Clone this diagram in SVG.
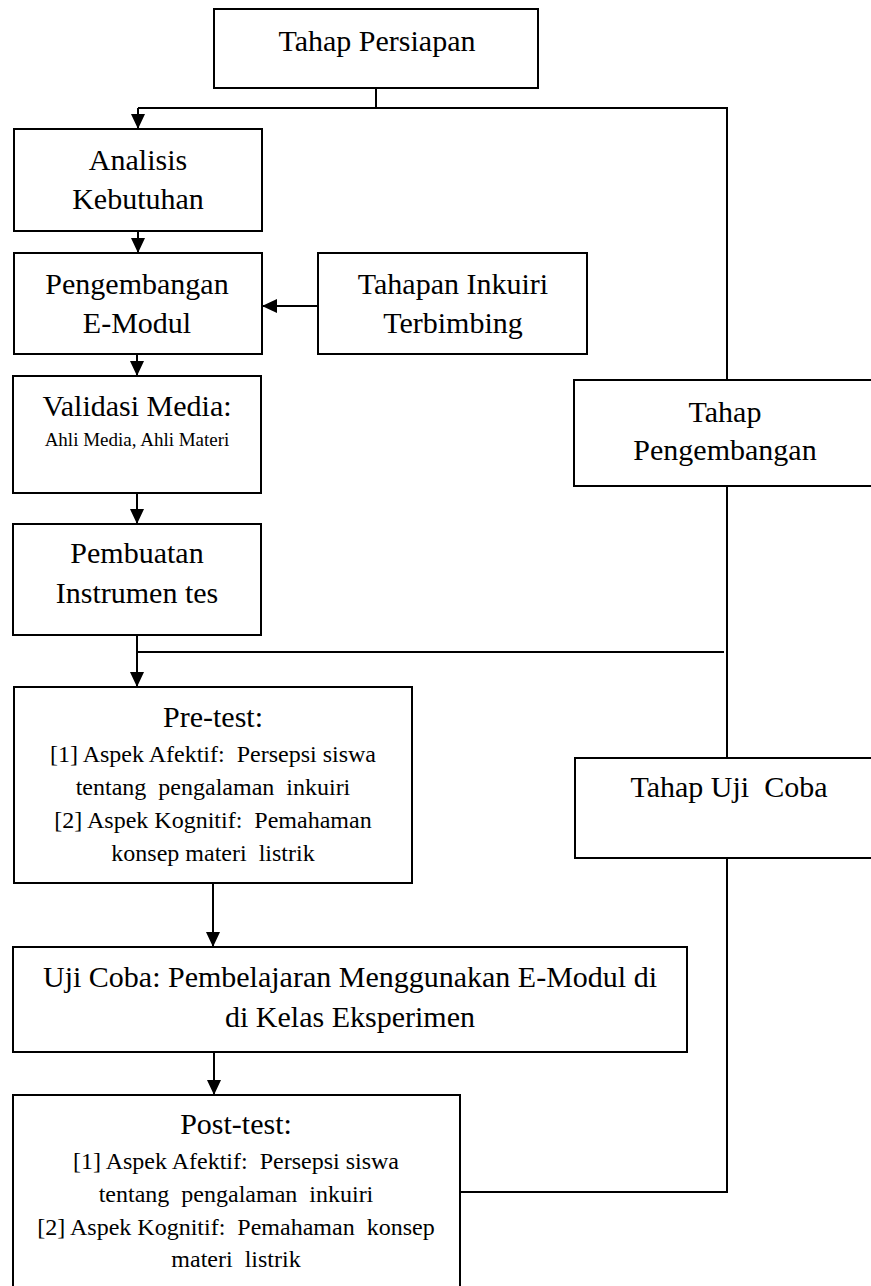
<svg xmlns="http://www.w3.org/2000/svg" width="871" height="1286" viewBox="0 0 871 1286">
<style>
  .box { fill: #ffffff; stroke: #000000; stroke-width: 2; }
  .t { font-family: "Liberation Serif", "Times New Roman", serif; fill: #000000; text-anchor: middle; white-space: pre; }
  .big { font-size: 30px; }
  .mid { font-size: 24px; }
  .small { font-size: 19px; }
  .conn { fill: none; stroke: #000000; stroke-width: 2; }
</style>
<defs>
  <marker id="arrow" markerUnits="userSpaceOnUse" markerWidth="16" markerHeight="14" refX="15" refY="7" orient="auto">
    <path d="M0,0 L15,7 L0,14 z" fill="#000000"/>
  </marker>
</defs>
<rect width="871" height="1286" fill="#ffffff"/>

<g id="connectors">
  <path class="conn" d="M376,88 V108"/>
  <path class="conn" d="M138,108 H727 V380"/>
  <path class="conn" d="M138,108 V129" marker-end="url(#arrow)"/>
  <path class="conn" d="M138,231 V253" marker-end="url(#arrow)"/>
  <path class="conn" d="M318,306 H262" marker-end="url(#arrow)"/>
  <path class="conn" d="M137,354 V376" marker-end="url(#arrow)"/>
  <path class="conn" d="M137,493 V524" marker-end="url(#arrow)"/>
  <path class="conn" d="M137,635 V687" marker-end="url(#arrow)"/>
  <path class="conn" d="M137,652 H724"/>
  <path class="conn" d="M727,486 V758"/>
  <path class="conn" d="M213,883 V947" marker-end="url(#arrow)"/>
  <path class="conn" d="M214,1052 V1095" marker-end="url(#arrow)"/>
  <path class="conn" d="M727,858 V1192 H460"/>
</g>

<g id="tahap-persiapan">
  <rect class="box" x="214" y="9" width="324" height="79"/>
  <text class="t big" x="377" y="51">Tahap Persiapan</text>
</g>

<g id="analisis-kebutuhan">
  <rect class="box" x="14" y="129" width="248" height="102"/>
  <text class="t big" x="138" y="170">Analisis</text>
  <text class="t big" x="138" y="209">Kebutuhan</text>
</g>

<g id="pengembangan-emodul">
  <rect class="box" x="14" y="253" width="248" height="101"/>
  <text class="t big" x="137" y="294">Pengembangan</text>
  <text class="t big" x="137" y="333">E-Modul</text>
</g>

<g id="tahapan-inkuiri">
  <rect class="box" x="318" y="253" width="269" height="101"/>
  <text class="t big" x="453" y="294">Tahapan Inkuiri</text>
  <text class="t big" x="453" y="333">Terbimbing</text>
</g>

<g id="validasi-media">
  <rect class="box" x="13" y="376" width="248" height="117"/>
  <text class="t big" x="137" y="416">Validasi Media:</text>
  <text class="t small" x="137" y="446">Ahli Media, Ahli Materi</text>
</g>

<g id="pembuatan-instrumen">
  <rect class="box" x="13" y="524" width="248" height="111"/>
  <text class="t big" x="137" y="563">Pembuatan</text>
  <text class="t big" x="137" y="603">Instrumen tes</text>
</g>

<g id="tahap-pengembangan">
  <rect class="box" x="574" y="380" width="310" height="106"/>
  <text class="t big" x="725" y="422">Tahap</text>
  <text class="t big" x="725" y="460">Pengembangan</text>
</g>

<g id="pre-test">
  <rect class="box" x="14" y="687" width="398" height="196"/>
  <text class="t big" x="213" y="727">Pre-test:</text>
  <text class="t mid" x="213" y="762">[1] Aspek Afektif:  Persepsi siswa</text>
  <text class="t mid" x="213" y="795">tentang  pengalaman  inkuiri</text>
  <text class="t mid" x="213" y="828">[2] Aspek Kognitif:  Pemahaman</text>
  <text class="t mid" x="213" y="861">konsep materi  listrik</text>
</g>

<g id="tahap-uji-coba">
  <rect class="box" x="575" y="758" width="310" height="100"/>
  <text class="t big" x="729" y="797">Tahap Uji  Coba</text>
</g>

<g id="uji-coba">
  <rect class="box" x="13" y="947" width="674" height="105"/>
  <text class="t big" x="350" y="987">Uji Coba: Pembelajaran Menggunakan E-Modul di</text>
  <text class="t big" x="350" y="1027">di Kelas Eksperimen</text>
</g>

<g id="post-test">
  <rect class="box" x="13" y="1095" width="447" height="196"/>
  <text class="t big" x="236" y="1134">Post-test:</text>
  <text class="t mid" x="236" y="1169">[1] Aspek Afektif:  Persepsi siswa</text>
  <text class="t mid" x="236" y="1202">tentang  pengalaman  inkuiri</text>
  <text class="t mid" x="236" y="1235">[2] Aspek Kognitif:  Pemahaman  konsep</text>
  <text class="t mid" x="236" y="1267">materi  listrik</text>
</g>
</svg>
